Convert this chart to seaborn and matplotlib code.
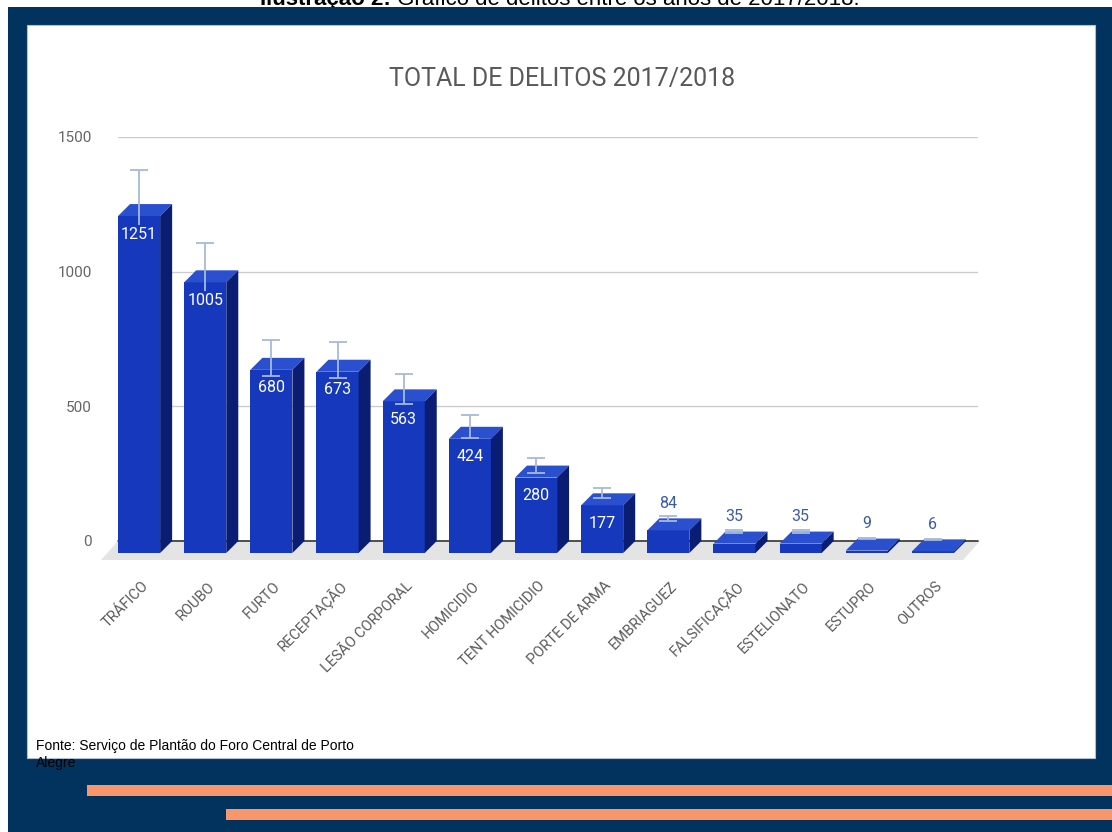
import numpy as np
import pandas as pd
import matplotlib
matplotlib.use("Agg")
import matplotlib.pyplot as plt
import seaborn as sns
from matplotlib.patches import Polygon, Rectangle
from matplotlib.transforms import ScaledTranslation, IdentityTransform

# ---------------- data ----------------
categories = ["TRÁFICO", "ROUBO", "FURTO", "RECEPTAÇÃO", "LESÃO CORPORAL", "HOMICIDIO",
              "TENT HOMICIDIO", "PORTE DE ARMA", "EMBRIAGUEZ", "FALSIFICAÇÃO",
              "ESTELIONATO", "ESTUPRO", "OUTROS"]
values = [1251, 1005, 680, 673, 563, 424, 280, 177, 84, 35, 35, 9, 6]
errors = [125, 100, 68, 67, 56, 42, 28, 18, 8, 4, 4, 1, 1]
y_ticks = [0, 500, 1000, 1500]
title = "TOTAL DE DELITOS 2017/2018"
source_lines = ["Fonte: Serviço de Plantão do Foro Central de Porto", "Alegre"]
caption_bold = "Ilustração 2:"
caption_rest = " Gráfico de delitos entre os anos de 2017/2018."

# ---------------- style ----------------
sns.set_theme(style="white")
plt.rcParams["font.family"] = ["Roboto", "DejaVu Sans"]

W, H, DPI = 1112, 832, 100
navy = "#02335f"
orange = "#f9966b"
front_col = "#1638bd"
top_col = "#2a4fcf"
side_col = "#0a1d72"
floor_col = "#e4e4e4"

fig = plt.figure(figsize=(W / DPI, H / DPI), dpi=DPI, facecolor="white")

def fx(px):
    return px / W

def fy(py):
    return 1 - py / H

# background frame
fig.add_artist(Rectangle((fx(8), 0), 1, fy(7), transform=fig.transFigure,
                         facecolor=navy, edgecolor="none", zorder=-3))
fig.add_artist(Rectangle((fx(27), fy(758)), fx(1095 - 27), (758 - 25) / H,
                         transform=fig.transFigure, facecolor="white",
                         edgecolor="#b4c0ce", lw=0.8, zorder=-2))
fig.add_artist(Rectangle((fx(87), fy(796)), 1, 11 / H, transform=fig.transFigure,
                         facecolor=orange, edgecolor="none", zorder=-1))
fig.add_artist(Rectangle((fx(226), fy(820)), 1, 11 / H, transform=fig.transFigure,
                         facecolor=orange, edgecolor="none", zorder=-1))

# ---------------- axes ----------------
ax = fig.add_axes([fx(118), fy(541), fx(860), 404 / H])
ax.set_facecolor("none")

df = pd.DataFrame({"cat": categories, "val": values})
sns.barplot(data=df, x="cat", y="val", color=front_col, saturation=1,
            width=42 / 66, errorbar=None, ax=ax, zorder=3, linewidth=0)

ax.set_xlim(-0.5, 12.5)
ax.set_ylim(0, 1500)
ax.set_yticks(y_ticks)
ax.set_yticklabels([str(t) for t in y_ticks])
ax.yaxis.grid(True, color="#cccccc", lw=1)
ax.xaxis.grid(False)
ax.set_axisbelow(True)
for s in ax.spines.values():
    s.set_visible(False)
ax.tick_params(axis="y", length=0, pad=18.7, labelcolor="#666666", labelsize=11)
ax.tick_params(axis="x", length=0)
ax.set_xticks(range(len(categories)))
ax.set_xticklabels([])
ax.set_xlabel("")
ax.set_ylabel("")

d = 12  # depth in pixels
shift = ScaledTranslation(-d / DPI, -d / DPI, fig.dpi_scale_trans)
bars = list(ax.patches)
for p in bars:
    p.set_transform(ax.transData + shift)
    p.set_clip_on(False)

T = ax.transData.transform
o = np.array([-d, -d])

# floor
fl_back_l = T((-0.5, 0))
fl_back_r = T((12.5, 0)) + np.array([2, 0])
fo = np.array([-17, -19])
ax.add_artist(Polygon([fl_back_l, fl_back_r, fl_back_r + fo, fl_back_l + fo],
                      closed=True, transform=IdentityTransform(),
                      facecolor=floor_col, edgecolor="none", zorder=1, clip_on=False))
ax.axhline(0, color="#333333", lw=1.2, zorder=1.5, clip_on=False)

# 3D faces
for p in bars:
    x0 = p.get_x()
    x1 = x0 + p.get_width()
    v = p.get_height()
    tl, tr = T((x0, v)), T((x1, v))
    br = T((x1, 0))
    ax.add_artist(Polygon([tl + o, tr + o, tr, tl], closed=True,
                          transform=IdentityTransform(), facecolor=top_col,
                          edgecolor="none", zorder=3, clip_on=False))
    ax.add_artist(Polygon([tr + o, tr, br, br + o], closed=True,
                          transform=IdentityTransform(), facecolor=side_col,
                          edgecolor="none", zorder=3, clip_on=False))

# error bars (at front-face centre)
eb = ax.errorbar(np.arange(len(values)), values, yerr=errors, fmt="none",
                 ecolor="#a7b9dc", elinewidth=1.3, capsize=6.5, capthick=1.3,
                 zorder=4, clip_on=False)
xshift = ax.transData + ScaledTranslation(-d / DPI, 0, fig.dpi_scale_trans)
for art in list(eb.lines[1]) + list(eb.lines[2]):
    art.set_transform(xshift)

# value labels
for i, v in enumerate(values):
    if v >= 150:
        ax.annotate(str(v), xy=(i, v), xytext=(-d, -30), textcoords="offset pixels",
                    ha="center", va="center", color="white", fontsize=11.5, zorder=6,
                    annotation_clip=False,
                    bbox=dict(boxstyle="square,pad=0.12", fc=front_col, ec="none"))
    else:
        ax.annotate(str(v), xy=(i, v), xytext=(-d, 15), textcoords="offset pixels",
                    ha="center", va="center", color="#3a5aad", fontsize=11.5, zorder=6,
                    annotation_clip=False)

# category labels
for i, c in enumerate(categories):
    ax.annotate(c, xy=(i, 0), xytext=(-5, -43), textcoords="offset pixels",
                rotation=45, ha="right", va="center", rotation_mode="anchor",
                color="#5a5a5a", fontsize=10.5, annotation_clip=False)

# title
fig.text(fx(562), fy(79), title, ha="center", va="center", fontsize=18, color="#595959")

# source
fig.text(fx(36), fy(746), source_lines[0], ha="left", va="center", fontsize=10,
         family="Liberation Sans", color="black")
fig.text(fx(36), fy(763), source_lines[1], ha="left", va="center", fontsize=10,
         family="Liberation Sans", color="black")

# clipped caption at the very top
renderer = fig.canvas.get_renderer()
t1 = fig.text(0, fy(5), caption_bold, ha="left", va="baseline", fontsize=16,
              fontweight="bold", family="Liberation Sans", color="black", zorder=-4)
t2 = fig.text(0, fy(5), caption_rest, ha="left", va="baseline", fontsize=16,
              family="Liberation Sans", color="black", zorder=-4)
w1 = t1.get_window_extent(renderer).width
w2 = t2.get_window_extent(renderer).width
start = 560 - (w1 + w2) / 2
t1.set_x(fx(start))
t2.set_x(fx(start + w1))

fig.savefig("out.png", dpi=DPI, facecolor="white")
